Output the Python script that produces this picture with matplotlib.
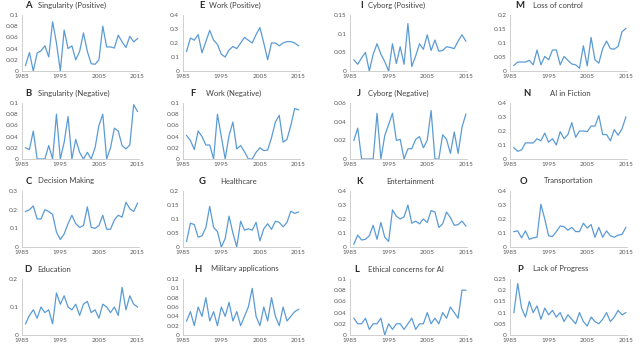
import matplotlib
matplotlib.use('Agg')
import matplotlib.pyplot as plt

plt.rcParams['font.family'] = ['Lato', 'DejaVu Sans']

years = list(range(1986, 2016))

# column 1
singularity_pos = [0.01, 0.033, 0.0, 0.032, 0.036, 0.045, 0.025, 0.088, 0.05, 0.0,
                   0.073, 0.04, 0.045, 0.02, 0.035, 0.068, 0.035, 0.013, 0.012, 0.02,
                   0.08, 0.043, 0.043, 0.041, 0.064, 0.052, 0.042, 0.062, 0.052, 0.058]
singularity_neg = [0.02, 0.017, 0.05, 0.0, 0.0, 0.0, 0.024, 0.0, 0.08, 0.0,
                   0.03, 0.076, 0.0, 0.035, 0.012, 0.0, 0.012, 0.0, 0.02, 0.06,
                   0.08, 0.0, 0.02, 0.055, 0.05, 0.024, 0.018, 0.025, 0.097, 0.085]
decision_making = [0.19, 0.2, 0.22, 0.15, 0.15, 0.2, 0.19, 0.175, 0.08, 0.04,
                   0.07, 0.125, 0.17, 0.125, 0.105, 0.115, 0.215, 0.105, 0.1, 0.115,
                   0.17, 0.095, 0.095, 0.145, 0.17, 0.16, 0.24, 0.205, 0.19, 0.235]
education = [0.04, 0.07, 0.09, 0.06, 0.1, 0.08, 0.09, 0.04, 0.15, 0.11,
             0.14, 0.1, 0.09, 0.11, 0.07, 0.11, 0.12, 0.08, 0.09, 0.06,
             0.11, 0.1, 0.08, 0.1, 0.07, 0.17, 0.09, 0.14, 0.11, 0.1]

# column 2
work_pos = [0.14, 0.235, 0.22, 0.26, 0.13, 0.21, 0.29, 0.22, 0.19, 0.12,
            0.1, 0.15, 0.175, 0.16, 0.2, 0.24, 0.22, 0.2, 0.26, 0.31,
            0.2, 0.08, 0.2, 0.2, 0.18, 0.2, 0.21, 0.21, 0.2, 0.18]
work_neg = [0.042, 0.033, 0.017, 0.05, 0.04, 0.025, 0.025, 0.0, 0.08, 0.04,
            0.0, 0.042, 0.066, 0.018, 0.024, 0.013, 0.0, 0.0, 0.012, 0.02,
            0.015, 0.016, 0.038, 0.066, 0.078, 0.03, 0.035, 0.06, 0.09, 0.088]
healthcare = [0.02, 0.085, 0.08, 0.035, 0.04, 0.07, 0.145, 0.07, 0.055, 0.0,
              0.03, 0.11, 0.05, 0.0, 0.092, 0.06, 0.065, 0.06, 0.088, 0.022,
              0.065, 0.083, 0.063, 0.092, 0.088, 0.072, 0.088, 0.128, 0.12, 0.125]
military = [0.03, 0.05, 0.02, 0.06, 0.04, 0.08, 0.03, 0.05, 0.02, 0.06,
            0.04, 0.07, 0.03, 0.05, 0.02, 0.04, 0.06, 0.1, 0.04, 0.02,
            0.06, 0.03, 0.08, 0.04, 0.02, 0.06, 0.03, 0.04, 0.05, 0.055]

# column 3
cyborg_pos = [0.03, 0.018, 0.035, 0.05, 0.0, 0.045, 0.073, 0.045, 0.025, 0.0,
              0.073, 0.02, 0.065, 0.018, 0.127, 0.012, 0.04, 0.073, 0.058, 0.097,
              0.055, 0.083, 0.053, 0.055, 0.065, 0.063, 0.06, 0.08, 0.097, 0.08]
cyborg_neg = [0.02, 0.033, 0.0, 0.0, 0.0, 0.0, 0.049, 0.0, 0.025, 0.037,
              0.049, 0.02, 0.021, 0.0, 0.011, 0.011, 0.021, 0.024, 0.012, 0.02,
              0.052, 0.0, 0.0, 0.026, 0.021, 0.006, 0.029, 0.006, 0.034, 0.048]
entertainment = [0.02, 0.085, 0.05, 0.055, 0.08, 0.155, 0.055, 0.175, 0.07, 0.04,
                 0.265, 0.22, 0.2, 0.215, 0.3, 0.17, 0.185, 0.165, 0.2, 0.175,
                 0.26, 0.25, 0.14, 0.165, 0.25, 0.21, 0.155, 0.16, 0.185, 0.15]
ethical = [0.03, 0.02, 0.02, 0.03, 0.01, 0.02, 0.02, 0.03, 0.0, 0.02,
           0.01, 0.02, 0.02, 0.01, 0.02, 0.03, 0.01, 0.02, 0.02, 0.04,
           0.02, 0.03, 0.02, 0.04, 0.03, 0.05, 0.04, 0.03, 0.08, 0.08]

# column 4
loss_of_control = [0.02, 0.032, 0.032, 0.032, 0.038, 0.022, 0.075, 0.022, 0.052, 0.04,
                   0.075, 0.075, 0.022, 0.052, 0.038, 0.025, 0.022, 0.01, 0.09, 0.018,
                   0.12, 0.04, 0.028, 0.08, 0.107, 0.08, 0.078, 0.088, 0.14, 0.152]
ai_in_fiction = [0.08, 0.055, 0.065, 0.115, 0.115, 0.115, 0.145, 0.13, 0.185, 0.12,
                 0.145, 0.1, 0.195, 0.145, 0.175, 0.26, 0.155, 0.2, 0.2, 0.195,
                 0.235, 0.235, 0.31, 0.175, 0.175, 0.13, 0.21, 0.17, 0.215, 0.3]
transportation = [0.11, 0.115, 0.065, 0.115, 0.055, 0.065, 0.07, 0.305, 0.2, 0.08,
                  0.075, 0.11, 0.15, 0.145, 0.12, 0.14, 0.11, 0.11, 0.17, 0.135,
                  0.16, 0.07, 0.14, 0.07, 0.115, 0.08, 0.07, 0.085, 0.09, 0.14]
lack_of_progress = [0.1, 0.23, 0.12, 0.08, 0.15, 0.1, 0.13, 0.07, 0.12, 0.09,
                    0.11, 0.08, 0.1, 0.06, 0.09, 0.07, 0.05, 0.1, 0.06, 0.04,
                    0.08, 0.06, 0.05, 0.07, 0.1, 0.06, 0.08, 0.11, 0.09, 0.1]

letters = ['A', 'B', 'C', 'D', 'E', 'F', 'G', 'H',
           'I', 'J', 'K', 'L', 'M', 'N', 'O', 'P']
titles = ['Singularity (Positive)', 'Singularity (Negative)', 'Decision Making', 'Education',
          'Work (Positive)', 'Work (Negative)', 'Healthcare', 'Military applications',
          'Cyborg (Positive)', 'Cyborg (Negative)', 'Entertainment', 'Ethical concerns for AI',
          'Loss of control', 'AI in Fiction', 'Transportation', 'Lack of Progress']
series = [singularity_pos, singularity_neg, decision_making, education,
          work_pos, work_neg, healthcare, military,
          cyborg_pos, cyborg_neg, entertainment, ethical,
          loss_of_control, ai_in_fiction, transportation, lack_of_progress]
y_max = [0.1, 0.1, 0.3, 0.2, 0.4, 0.1, 0.2, 0.12,
         0.15, 0.06, 0.4, 0.1, 0.2, 0.4, 0.4, 0.25]
y_step = [0.02, 0.02, 0.1, 0.1, 0.1, 0.02, 0.05, 0.02,
          0.05, 0.02, 0.1, 0.02, 0.05, 0.1, 0.1, 0.05]

# layout in pixels (640 x 352 canvas)
W, H = 640, 352
col_left = [21.7, 182.7, 350, 510]
row_top = [15, 103, 191, 279]
ax_w, ax_h = 117, 56
# title letter / text x offsets from the axis left edge
letter_dx = [7, 7, 7, 6, 19, 10, 19, 15, 12, 9, 9, 7, 10, 17, 13, 10]
text_dx = [16, 16, 16, 16, 26, 23, 38, 28, 18, 18, 36, 18, 23, 40, 34, 23]

line_color = '#5B9BD5'
text_color = '#595959'

fig = plt.figure(figsize=(6.4, 3.52), dpi=100)

for i in range(16):
    col, row = i // 4, i % 4
    left = col_left[col]
    top = row_top[row]
    ax = fig.add_axes([left / W, 1 - (top + ax_h) / H, ax_w / W, ax_h / H])
    ax.plot(years, series[i], color=line_color, lw=0.9)
    ax.set_xlim(1985, 2015.3)
    ax.set_ylim(0, y_max[i])
    n = int(round(y_max[i] / y_step[i]))
    ticks = [round(k * y_step[i], 4) for k in range(n + 1)]
    ax.set_yticks(ticks)
    ax.set_yticklabels([f'{t:g}' for t in ticks])
    ax.set_xticks([1985, 1995, 2005, 2015])
    ax.tick_params(length=0, labelsize=4.6, colors=text_color, pad=2.5)
    for s in ['top', 'right']:
        ax.spines[s].set_visible(False)
    for s in ['left', 'bottom']:
        ax.spines[s].set_color('#C8C8C8')
        ax.spines[s].set_linewidth(0.6)
    ax.set_facecolor('none')

    ty = 1 - (top - 10) / H
    fig.text((left + letter_dx[i]) / W, ty, letters[i], fontsize=6.8,
             fontweight='bold', color='#262626', ha='center', va='center')
    fig.text((left + text_dx[i]) / W, ty, titles[i], fontsize=5.5,
             color='#404040', ha='left', va='center')

fig.savefig('out.png', dpi=100)
